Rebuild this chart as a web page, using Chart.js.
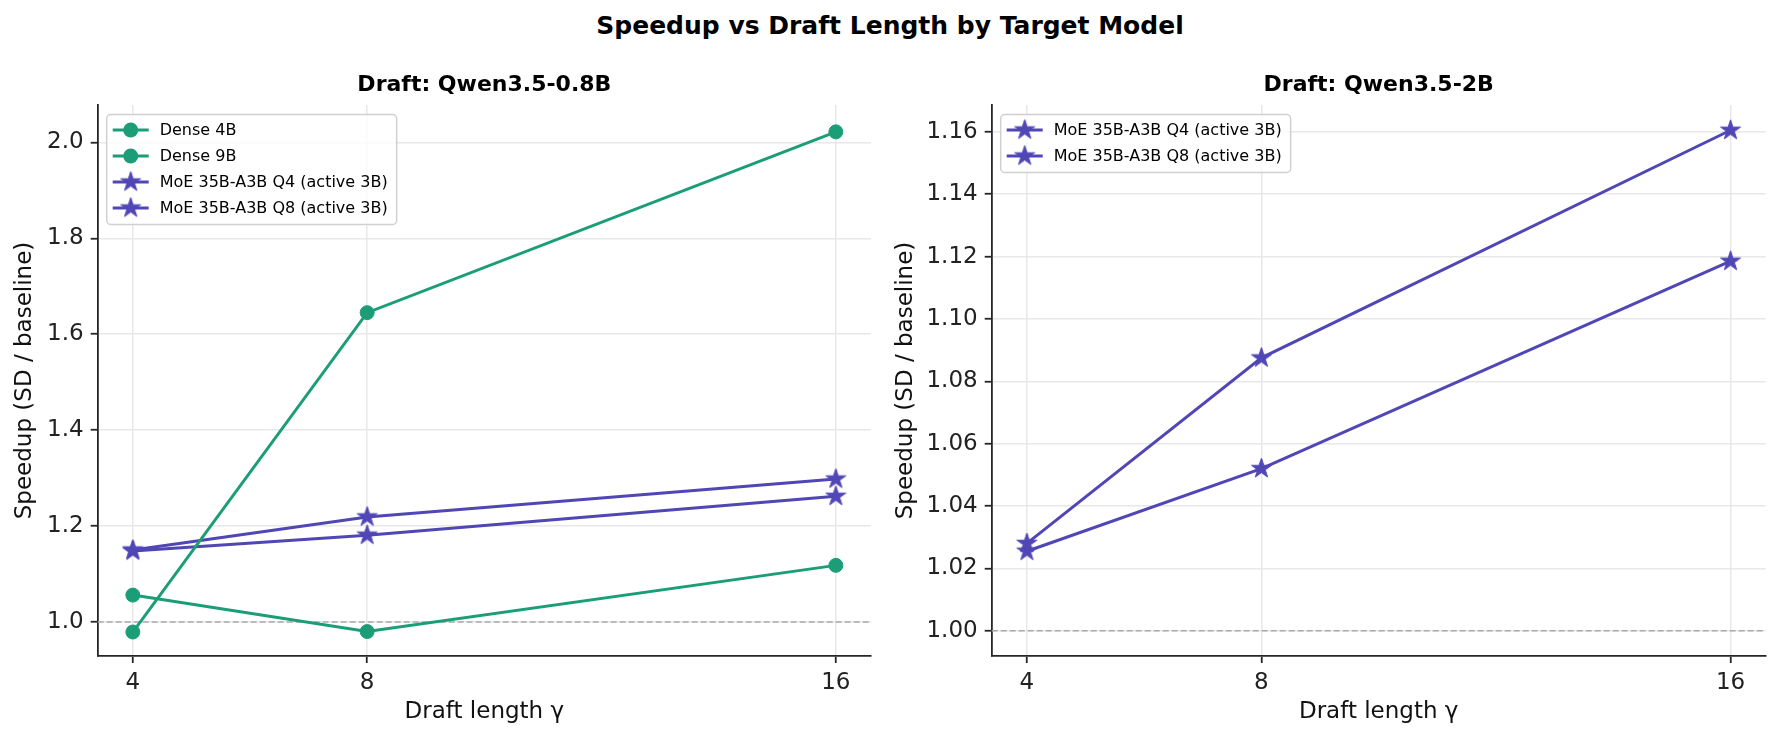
<!DOCTYPE html>
<html>
<head>
<meta charset="utf-8">
<script src="https://cdn.jsdelivr.net/npm/chart.js@4.4.1/dist/chart.umd.min.js"></script>
<style>
  html, body { margin: 0; padding: 0; background: #fff; }
  body { width: 1780px; height: 740px; position: relative; overflow: hidden; font-family: "DejaVu Sans", sans-serif; }
  #suptitle { position: absolute; left: 0; top: 11px; width: 1780px; height: 30px; line-height: 30px;
              text-align: center; font-weight: bold; font-size: 25px; color: #000; }
  .panel { position: absolute; top: 0; height: 740px; }
  #leftWrap { left: 0; width: 890px; }
  #rightWrap { left: 880px; width: 900px; }
</style>
</head>
<body>
<div id="suptitle">Speedup vs Draft Length by Target Model</div>
<div class="panel" id="leftWrap"><canvas id="leftChart"></canvas></div>
<div class="panel" id="rightWrap"><canvas id="rightChart"></canvas></div>

<script>
/* =========================
DATA
========================= */
const draftLengths = [4, 8, 16];

// Draft: Qwen3.5-0.8B
const dense4b = [1.056, 0.980, 1.118];
const dense9b = [0.979, 1.645, 2.022];
const moeQ4Small = [1.150, 1.219, 1.298];
const moeQ8Small = [1.148, 1.181, 1.262];

// Draft: Qwen3.5-2B
const moeQ4Large = [1.028, 1.0875, 1.1605];
const moeQ8Large = [1.0255, 1.052, 1.1185];

const leftYTicks = [1.0, 1.2, 1.4, 1.6, 1.8, 2.0];
const rightYTicks = [1.00, 1.02, 1.04, 1.06, 1.08, 1.10, 1.12, 1.14, 1.16];
const baseline = 1.0;

const GREEN = '#1b9e77';
const PURPLE = '#5046b6';
const FONT = '"DejaVu Sans", sans-serif';

/* =========================
HELPERS
========================= */
function makeStar(color, r) {
    const c = document.createElement('canvas');
    const s = Math.ceil(r * 2 + 4);
    c.width = c.height = s;
    const g = c.getContext('2d');
    g.beginPath();
    for (let i = 0; i < 10; i++) {
        const rad = i % 2 ? r * 0.382 : r;
        const a = -Math.PI / 2 + i * Math.PI / 5;
        g.lineTo(s / 2 + rad * Math.cos(a), s / 2 + rad * Math.sin(a));
    }
    g.closePath();
    g.fillStyle = color;
    g.fill();
    g.lineWidth = 1;
    g.strokeStyle = color;
    g.stroke();
    return c;
}
const starImg = makeStar(PURPLE, 10.5);

const toPoints = vals => vals.map((v, i) => ({ x: draftLengths[i], y: v }));

function lineSet(label, vals, color, marker) {
    return {
        label: label,
        data: toPoints(vals),
        borderColor: color,
        backgroundColor: color,
        borderWidth: 3,
        pointStyle: marker === 'star' ? starImg : 'circle',
        pointRadius: marker === 'star' ? 10 : 7,
        pointBorderWidth: 1,
        pointBackgroundColor: color,
        pointBorderColor: color,
        tension: 0,
        fill: false
    };
}

// dashed line at speedup = 1
const baselinePlugin = {
    id: 'baselineLine',
    beforeDatasetsDraw(chart) {
        const { ctx, chartArea, scales } = chart;
        const y = scales.y.getPixelForValue(baseline);
        ctx.save();
        ctx.strokeStyle = '#aaaaaa';
        ctx.lineWidth = 1.6;
        ctx.setLineDash([6, 3]);
        ctx.beginPath();
        ctx.moveTo(chartArea.left, y);
        ctx.lineTo(chartArea.right, y);
        ctx.stroke();
        ctx.restore();
    }
};

// panel title above chart area
const panelTitlePlugin = {
    id: 'panelTitle',
    afterDraw(chart, args, opts) {
        const { ctx, chartArea } = chart;
        ctx.save();
        ctx.font = 'bold 22px ' + FONT;
        ctx.fillStyle = '#000';
        ctx.textAlign = 'center';
        ctx.textBaseline = 'middle';
        ctx.fillText(opts.text, (chartArea.left + chartArea.right) / 2, chartArea.top - 20);
        ctx.restore();
    }
};

// matplotlib-like framed legend in upper left
const legendBoxPlugin = {
    id: 'legendBox',
    afterDraw(chart) {
        const { ctx, chartArea } = chart;
        const sets = chart.data.datasets;
        ctx.save();
        ctx.font = '16px ' + FONT;
        const tw = Math.max(...sets.map(d => ctx.measureText(d.label).width));
        const x = chartArea.left + 9, y = chartArea.top + 9.5;
        const w = tw + 62, h = sets.length * 26 + 6;
        ctx.beginPath();
        ctx.roundRect(x, y, w, h, 4);
        ctx.fillStyle = 'rgba(255,255,255,0.8)';
        ctx.fill();
        ctx.strokeStyle = '#d0d0d0';
        ctx.lineWidth = 1.5;
        ctx.stroke();
        sets.forEach((d, i) => {
            const cy = y + 15.5 + i * 26;
            ctx.strokeStyle = d.borderColor;
            ctx.lineWidth = 3;
            ctx.beginPath();
            ctx.moveTo(x + 6, cy);
            ctx.lineTo(x + 42, cy);
            ctx.stroke();
            if (d.pointStyle === 'circle') {
                ctx.fillStyle = d.borderColor;
                ctx.beginPath();
                ctx.arc(x + 24, cy, 7.5, 0, Math.PI * 2);
                ctx.fill();
            } else {
                ctx.drawImage(d.pointStyle, x + 24 - d.pointStyle.width / 2, cy - d.pointStyle.height / 2);
            }
            ctx.fillStyle = '#000';
            ctx.textAlign = 'left';
            ctx.textBaseline = 'middle';
            ctx.fillText(d.label, x + 53, cy + 1);
        });
        ctx.restore();
    }
};

function buildOptions(cfg) {
    return {
        responsive: true,
        maintainAspectRatio: false,
        animation: false,
        events: [],
        layout: { padding: { top: 105, right: cfg.padRight, bottom: 0, left: 0 } },
        plugins: {
            legend: { display: false },
            tooltip: { enabled: false },
            panelTitle: { text: cfg.title }
        },
        scales: {
            x: {
                type: 'linear',
                min: 3.4,
                max: 16.6,
                afterBuildTicks: s => { s.ticks = draftLengths.map(v => ({ value: v })); },
                afterFit: s => { s.height = 84; },
                ticks: {
                    color: '#222',
                    font: { family: FONT, size: 23 },
                    padding: 6,
                    maxRotation: 0,
                    callback: v => String(v)
                },
                grid: { color: '#e8e8e8', lineWidth: 1.5, tickLength: 7, tickColor: '#262626', tickWidth: 1.8 },
                border: { display: true, color: '#262626', width: 1.8 },
                title: {
                    display: true,
                    text: 'Draft length γ',
                    color: '#111',
                    font: { family: FONT, size: 23 },
                    padding: { top: 0, bottom: 14 }
                }
            },
            y: {
                type: 'linear',
                min: cfg.yMin,
                max: cfg.yMax,
                afterBuildTicks: s => { s.ticks = cfg.yTicks.map(v => ({ value: v })); },
                afterFit: s => { s.width = cfg.yWidth; },
                ticks: {
                    color: '#222',
                    font: { family: FONT, size: 23 },
                    padding: 7,
                    callback: v => v.toFixed(cfg.decimals)
                },
                grid: { color: '#e8e8e8', lineWidth: 1.5, tickLength: 7, tickColor: '#262626', tickWidth: 1.8 },
                border: { display: true, color: '#262626', width: 1.8 },
                title: {
                    display: true,
                    text: 'Speedup (SD / baseline)',
                    color: '#111',
                    font: { family: FONT, size: 23 },
                    padding: { top: cfg.titlePad, bottom: 0 }
                }
            }
        }
    };
}

/* =========================
CHART 1: DRAFT 0.8B
========================= */
new Chart(document.getElementById('leftChart').getContext('2d'), {
    type: 'line',
    data: {
        datasets: [
            lineSet('Dense 4B', dense4b, GREEN, 'circle'),
            lineSet('Dense 9B', dense9b, GREEN, 'circle'),
            lineSet('MoE 35B-A3B Q4 (active 3B)', moeQ4Small, PURPLE, 'star'),
            lineSet('MoE 35B-A3B Q8 (active 3B)', moeQ8Small, PURPLE, 'star')
        ]
    },
    options: buildOptions({
        title: 'Draft: Qwen3.5-0.8B',
        yMin: 0.929, yMax: 2.078, yTicks: leftYTicks, decimals: 1,
        yWidth: 97.7, padRight: 19, titlePad: 11
    }),
    plugins: [baselinePlugin, panelTitlePlugin, legendBoxPlugin]
});

/* =========================
CHART 2: DRAFT 2B
========================= */
new Chart(document.getElementById('rightChart').getContext('2d'), {
    type: 'line',
    data: {
        datasets: [
            lineSet('MoE 35B-A3B Q4 (active 3B)', moeQ4Large, PURPLE, 'star'),
            lineSet('MoE 35B-A3B Q8 (active 3B)', moeQ8Large, PURPLE, 'star')
        ]
    },
    options: buildOptions({
        title: 'Draft: Qwen3.5-2B',
        yMin: 0.9919, yMax: 1.1686, yTicks: rightYTicks, decimals: 2,
        yWidth: 111.7, padRight: 14.3, titlePad: 12
    }),
    plugins: [baselinePlugin, panelTitlePlugin, legendBoxPlugin]
});
</script>
</body>
</html>
